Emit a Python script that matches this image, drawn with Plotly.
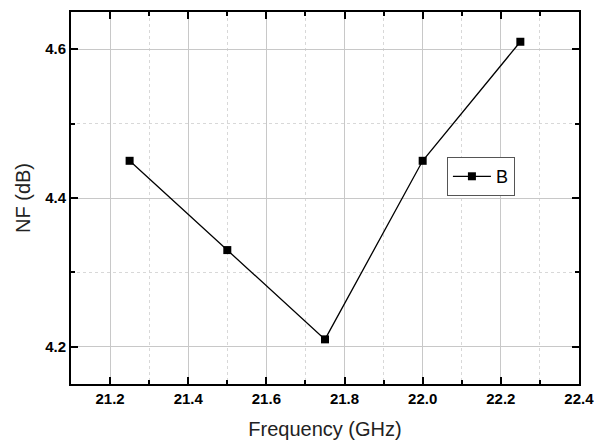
import plotly.graph_objects as go

freq = [21.25, 21.5, 21.75, 22.0, 22.25]
nf = [4.45, 4.33, 4.21, 4.45, 4.61]
series_name = "B"
x_ticks = [21.2, 21.4, 21.6, 21.8, 22.0, 22.2, 22.4]
x_tick_labels = ["21.2", "21.4", "21.6", "21.8", "22.0", "22.2", "22.4"]
y_ticks = [4.2, 4.4, 4.6]
y_tick_labels = ["4.2", "4.4", "4.6"]

FONT = "Liberation Sans, Arial"

fig = go.Figure()
fig.add_trace(go.Scatter(
    x=freq, y=nf, mode="lines+markers", name=series_name,
    line=dict(color="black", width=1.3),
    marker=dict(symbol="square", size=8, color="black"),
))

axis_common = dict(
    showline=True, linecolor="black", linewidth=2, mirror="allticks",
    ticks="inside", ticklen=7, tickwidth=2, tickcolor="black",
    showgrid=True, gridcolor="#c8c8c8", gridwidth=1,
    tickfont=dict(family=FONT, size=15, color="black", weight="bold"),
    zeroline=False, automargin=False, ticklabeloverflow="allow",
)

fig.update_xaxes(
    range=[21.1, 22.4001], tickvals=x_ticks, ticktext=["<b>%s</b>" % t for t in x_tick_labels],
    title=dict(text="Frequency (GHz)", font=dict(family=FONT, size=20, color="#222"), standoff=16),
    minor=dict(dtick=0.1, tick0=21.1, ticks="inside", ticklen=4, tickwidth=1.5, tickcolor="black",
               showgrid=True, gridcolor="#d8d8d8", griddash="dot", gridwidth=1),
    **axis_common,
)
fig.update_yaxes(
    range=[4.15, 4.65], tickvals=y_ticks, ticktext=["<b>%s</b>" % t for t in y_tick_labels],
    title=dict(text="NF (dB)", font=dict(family=FONT, size=20, color="#222"), standoff=9),
    minor=dict(dtick=0.1, tick0=4.1, ticks="inside", ticklen=4, tickwidth=1.5, tickcolor="black",
               showgrid=True, gridcolor="#d8d8d8", griddash="dot", gridwidth=1),
    **axis_common,
)

fig.update_layout(
    width=594, height=442,
    margin=dict(l=71, r=15, t=12, b=58),
    paper_bgcolor="white", plot_bgcolor="white",
    showlegend=True,
    legend=dict(
        x=0.74, y=0.61, xanchor="left", yanchor="top",
        bordercolor="#555", borderwidth=1, bgcolor="white",
        font=dict(family=FONT, size=18, color="black"),
        itemwidth=38, tracegroupgap=0,
    ),
)

fig.write_html("out.html", config={"displayModeBar": False},
               post_script="document.body.style.margin='0';")
